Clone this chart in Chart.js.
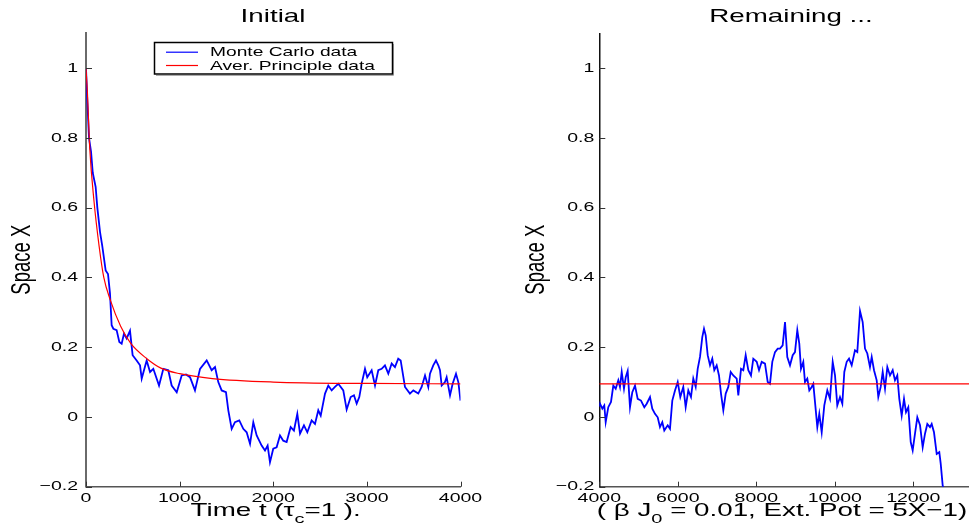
<!DOCTYPE html>
<html>
<head>
<meta charset="utf-8">
<script src="https://cdn.jsdelivr.net/npm/chart.js@4.4.1/dist/chart.umd.min.js"></script>
<style>
  body { margin: 0; background: #fff; }
  #wrap { position: relative; width: 969px; height: 529px; overflow: hidden; }
  canvas { position: absolute; top: 0; }
</style>
</head>
<body>
<div id="wrap">
  <canvas id="initial" width="490" height="529" style="left:0"></canvas>
  <canvas id="remaining" width="479" height="529" style="left:490px"></canvas>
</div>
<script>
// ---- data ----
var initTime = [0, 15, 32, 54, 72, 103, 121, 150, 174, 210, 235, 256, 274, 292, 327, 356, 381, 406, 434, 470,
    498, 541, 577, 595, 648, 684, 719, 780, 826, 879, 915, 969, 1022, 1068, 1111, 1164, 1218, 1289, 1342, 1378,
    1413, 1449, 1495, 1520, 1556, 1591, 1637, 1680, 1716, 1752, 1787, 1823, 1876, 1912, 1940, 1965, 2000, 2036,
    2072, 2107, 2143, 2186, 2221, 2257, 2286, 2328, 2364, 2410, 2446, 2481, 2507, 2553, 2588, 2624, 2659, 2695,
    2748, 2784, 2827, 2862, 2891, 2919, 2944, 2980, 3004, 3051, 3087, 3122, 3158, 3193, 3229, 3265, 3300, 3335,
    3361, 3407, 3460, 3496, 3549, 3585, 3621, 3656, 3674, 3709, 3738, 3763, 3781, 3799, 3834, 3852, 3888, 3916,
    3952, 3977, 4000];
var initMonteCarlo = [1.0, 0.90, 0.80, 0.76, 0.70, 0.66, 0.60, 0.53, 0.49, 0.42, 0.41, 0.355, 0.263, 0.253, 0.249, 0.215, 0.21, 0.239, 0.225, 0.247,
    0.177, 0.162, 0.148, 0.11, 0.162, 0.129, 0.138, 0.09, 0.138, 0.134, 0.09, 0.071, 0.119, 0.122, 0.114, 0.076, 0.138, 0.162, 0.134, 0.143,
    0.1, 0.076, 0.071, 0.019, -0.034, -0.015, -0.01, -0.034, -0.044, -0.077, -0.015, -0.053, -0.082, -0.096, -0.082, -0.13, -0.091, -0.087,
    -0.053, -0.068, -0.072, -0.029, -0.039, 0.009, -0.048, -0.024, -0.044, -0.01, -0.02, 0.019, 0.004, 0.067, 0.09, 0.076, 0.086, 0.095,
    0.076, 0.021, 0.057, 0.062, 0.038, 0.057, 0.095, 0.138, 0.114, 0.134, 0.09, 0.134, 0.138, 0.148, 0.124, 0.153, 0.143, 0.167,
    0.162, 0.086, 0.067, 0.076, 0.067, 0.086, 0.119, 0.086, 0.124, 0.148, 0.162, 0.148, 0.134, 0.09, 0.1, 0.114, 0.062, 0.095,
    0.124, 0.1, 0.047];
var initAverTime = [0, 15, 40, 85, 140, 190, 260, 370, 480, 650, 800, 1000, 1350, 2000, 3000, 4000];
var initAver = [1.0, 0.93, 0.77, 0.62, 0.49, 0.40, 0.335, 0.26, 0.21, 0.167, 0.14, 0.124, 0.11, 0.10, 0.096, 0.095];

var remTime = [4000, 4018, 4077, 4127, 4163, 4229, 4298, 4357, 4418, 4484, 4527, 4571, 4629, 4673, 4723, 4782, 4841, 4910, 4978,
    5062, 5147, 5208, 5292, 5350, 5419, 5488, 5546, 5605, 5656, 5743, 5801, 5860, 5929, 5998, 6064, 6140, 6201, 6268,
    6336, 6395, 6456, 6507, 6566, 6624, 6668, 6711, 6762, 6821, 6879, 6930, 6991, 7050, 7101, 7160, 7221, 7287, 7348,
    7414, 7501, 7542, 7611, 7669, 7730, 7797, 7865, 7924, 8011, 8070, 8138, 8222, 8291, 8349, 8408, 8477, 8546, 8604,
    8672, 8732, 8790, 8859, 8928, 8986, 9045, 9096, 9139, 9198, 9241, 9300, 9351, 9412, 9453, 9504, 9555, 9606, 9667,
    9733, 9810, 9878, 9947, 10006, 10064, 10133, 10192, 10243, 10304, 10363, 10431, 10515, 10574, 10643, 10711, 10770,
    10829, 10897, 10941, 11000, 11068, 11109, 11170, 11221, 11280, 11339, 11407, 11476, 11534, 11593, 11644, 11705,
    11764, 11815, 11873, 11935, 11985, 12044, 12103, 12172, 12240, 12299, 12358, 12426, 12469, 12528, 12597, 12663,
    12699, 12750, 12790];
var remMonteCarlo = [0.03, 0.038, 0.024, 0.033, -0.015, 0.028, 0.043, 0.09, 0.081, 0.105, 0.086, 0.129, 0.081, 0.114, 0.132, 0.028, 0.071, 0.09, 0.052,
    0.047, 0.028, 0.038, 0.057, 0.024, 0.009, -0.001, -0.029, -0.015, -0.039, -0.024, -0.034, 0.047, 0.076, 0.1, 0.057, 0.086, 0.028, 0.076,
    0.057, 0.11, 0.086, 0.138, 0.172, 0.229, 0.253, 0.234, 0.177, 0.148, 0.167, 0.134, 0.148, 0.119, 0.067, 0.019, 0.067, 0.086, 0.129,
    0.119, 0.11, 0.062, 0.138, 0.134, 0.177, 0.134, 0.119, 0.167, 0.158, 0.134, 0.158, 0.153, 0.1, 0.095, 0.158, 0.186, 0.196, 0.196,
    0.205, 0.272, 0.172, 0.148, 0.177, 0.186, 0.249, 0.21, 0.138, 0.158, 0.1, 0.11, 0.076, 0.086, 0.095, 0.033, -0.029, 0.009, -0.044,
    0.033, 0.076, 0.052, 0.158, 0.119, 0.033, 0.057, 0.038, 0.129, 0.158, 0.167, 0.148, 0.191, 0.186, 0.304, 0.272, 0.196,
    0.182, 0.143, 0.172, 0.134, 0.105, 0.057, 0.086, 0.129, 0.081, 0.143, 0.119, 0.134, 0.105, 0.119, 0.052, 0.004,
    0.052, 0.014, 0.028, -0.072, -0.096, -0.048, -0.001, -0.024, -0.087, -0.048, -0.02, -0.029, -0.02, -0.044, -0.106, -0.101,
    -0.134, -0.197, -0.21];
var remAverTime = [4000, 13420];
var remAver = [0.095, 0.095];

var initXTicks = [0, 1000, 2000, 3000, 4000];
var initXTickText = ['0', '1000', '2000', '3000', '4000'];
var remXTicks = [4000, 6000, 8000, 10000, 12000];
var remXTickText = ['4000', '6000', '8000', '10000', '12000'];
var yTicks = [-0.2, 0, 0.2, 0.4, 0.6, 0.8, 1];
var yTickText = ['\u22120.2', '0', '0.2', '0.4', '0.6', '0.8', '1'];

var seriesNames = ['Monte Carlo data', 'Aver. Principle data'];
var seriesColors = ['#0000ff', '#ff0000'];

// ---- drawing helpers ----
var FONT = '"Liberation Sans", Arial, Helvetica, sans-serif';
var STRETCH = 1.5;   // the original figure is stretched sideways

function wideText(ctx, text, x, y, size, align, baseline) {
    ctx.save();
    ctx.font = size + 'px ' + FONT;
    ctx.fillStyle = '#000';
    ctx.textAlign = align;
    ctx.textBaseline = baseline || 'alphabetic';
    ctx.translate(x, y);
    ctx.scale(STRETCH, 1);
    ctx.fillText(text, 0, 0);
    ctx.restore();
}

// runs: [text, isSubscript]
function wideRuns(ctx, runs, cx, y, size) {
    var subSize = size * 0.72;
    ctx.save();
    var widths = runs.map(function (r) {
        ctx.font = (r[1] ? subSize : size) + 'px ' + FONT;
        return ctx.measureText(r[0]).width * STRETCH;
    });
    ctx.restore();
    var x = cx - widths.reduce(function (a, b) { return a + b; }, 0) / 2;
    runs.forEach(function (r, i) {
        wideText(ctx, r[0], x, r[1] ? y + 7 : y, r[1] ? subSize : size, 'left');
        x += widths[i];
    });
}

function line(ctx, x1, y1, x2, y2) {
    ctx.beginPath();
    ctx.moveTo(x1, y1);
    ctx.lineTo(x2, y2);
    ctx.stroke();
}

function makeDecor(cfg) {
    return {
        id: 'decor',
        afterDraw: function (chart) {
            var ctx = chart.ctx, a = chart.chartArea;
            var xs = chart.scales.x, ys = chart.scales.y;

            // inward tick marks
            ctx.save();
            ctx.strokeStyle = '#333';
            ctx.lineWidth = 1;
            ys.ticks.forEach(function (t) {
                var py = Math.round(ys.getPixelForValue(t.value)) + 0.5;
                line(ctx, a.left, py, a.left + 6, py);
            });
            xs.ticks.forEach(function (t) {
                var px = Math.round(xs.getPixelForValue(t.value)) + 0.5;
                line(ctx, px, a.bottom, px, a.bottom - 5);
            });
            ctx.restore();

            // tick labels
            ys.ticks.forEach(function (t, i) {
                wideText(ctx, yTickText[i], a.left - cfg.yGap, ys.getPixelForValue(t.value), 13, 'right', 'middle');
            });
            xs.ticks.forEach(function (t, i) {
                wideText(ctx, cfg.xTickText[i], xs.getPixelForValue(t.value), 502, 13, 'center');
            });

            // titles
            wideText(ctx, cfg.title, cfg.titleX, 22, 18.5, 'center');
            wideRuns(ctx, cfg.xTitle, cfg.xTitleX, 516, 18.5);

            ctx.save();
            ctx.translate(cfg.yTitleX, 259.7);
            ctx.rotate(-Math.PI / 2);
            ctx.scale(1, STRETCH);
            ctx.font = '18.5px ' + FONT;
            ctx.fillStyle = '#000';
            ctx.textAlign = 'center';
            ctx.textBaseline = 'middle';
            ctx.fillText('Space X', 0, 0);
            ctx.restore();

            if (cfg.legend) {
                ctx.save();
                ctx.fillStyle = '#fff';
                ctx.fillRect(154.5, 42.5, 238, 31.5);
                ctx.strokeStyle = '#aaa';
                ctx.lineWidth = 1;
                line(ctx, 156, 75.5, 393.5, 75.5);
                line(ctx, 393.5, 44, 393.5, 75.5);
                ctx.strokeStyle = '#000';
                ctx.lineWidth = 1.5;
                ctx.strokeRect(154.5, 42.5, 238, 31.5);
                var rows = [51.7, 65];
                seriesNames.forEach(function (name, i) {
                    ctx.strokeStyle = seriesColors[i];
                    ctx.lineWidth = 1.2;
                    line(ctx, 166, rows[i] + 0.5, 198, rows[i] + 0.5);
                    wideText(ctx, name, 210, rows[i] + 1, 12.8, 'left', 'middle');
                });
                ctx.restore();
            }
        }
    };
}

function points(xv, yv) {
    return xv.map(function (x, i) { return { x: x, y: yv[i] }; });
}

function makeChart(id, cfg) {
    return new Chart(document.getElementById(id), {
        type: 'line',
        data: {
            datasets: [{
                label: seriesNames[0],
                data: points(cfg.mcTime, cfg.mc),
                borderColor: seriesColors[0],
                borderWidth: 1.8,
                pointRadius: 0,
                tension: 0,
                order: 1
            }, {
                label: seriesNames[1],
                data: points(cfg.avTime, cfg.av),
                borderColor: seriesColors[1],
                borderWidth: 1.2,
                pointRadius: 0,
                cubicInterpolationMode: 'monotone',
                order: 0
            }]
        },
        options: {
            responsive: false,
            animation: false,
            devicePixelRatio: 1,
            layout: { padding: { top: 33.3, right: cfg.padRight, left: 0, bottom: 0 } },
            plugins: { legend: { display: false }, tooltip: { enabled: false } },
            scales: {
                x: {
                    type: 'linear',
                    min: cfg.xMin,
                    max: cfg.xMax,
                    grid: { display: false },
                    border: { display: true, color: '#555', width: 1.5 },
                    ticks: { display: false },
                    afterBuildTicks: function (s) { s.ticks = cfg.xTicks.map(function (v) { return { value: v }; }); },
                    afterFit: function (s) { s.height = 42.3; }
                },
                y: {
                    type: 'linear',
                    min: -0.2,
                    max: 1.1,
                    grid: { display: false },
                    border: { display: true, color: cfg.yAxisColor, width: cfg.yAxisWidth },
                    ticks: { display: false },
                    afterBuildTicks: function (s) { s.ticks = yTicks.map(function (v) { return { value: v }; }); },
                    afterFit: function (s) { s.width = cfg.yWidth; }
                }
            }
        },
        plugins: [makeDecor(cfg)]
    });
}

makeChart('initial', {
    mcTime: initTime, mc: initMonteCarlo, avTime: initAverTime, av: initAver,
    xMin: 0, xMax: 4000, xTicks: initXTicks, xTickText: initXTickText,
    padRight: 29.5, yWidth: 86, yAxisColor: '#6a6a6a', yAxisWidth: 2, yGap: 8,
    title: 'Initial', titleX: 273,
    xTitle: [['Time t (\u03c4', 0], ['c', 1], ['=1 ).', 0]], xTitleX: 275.7,
    yTitleX: 22.3, legend: true
});

makeChart('remaining', {
    mcTime: remTime, mc: remMonteCarlo, avTime: remAverTime, av: remAver,
    xMin: 4000, xMax: 13420, xTicks: remXTicks, xTickText: remXTickText,
    padRight: 0, yWidth: 109.3, yAxisColor: '#111', yAxisWidth: 1.5, yGap: 5,
    title: 'Remaining ...', titleX: 301,
    xTitle: [['( \u03b2 J', 0], ['0', 1], [' = 0.01, Ext. Pot = 5X\u22121)', 0]], xTitleX: 292,
    yTitleX: 46, legend: false
});
</script>
</body>
</html>
